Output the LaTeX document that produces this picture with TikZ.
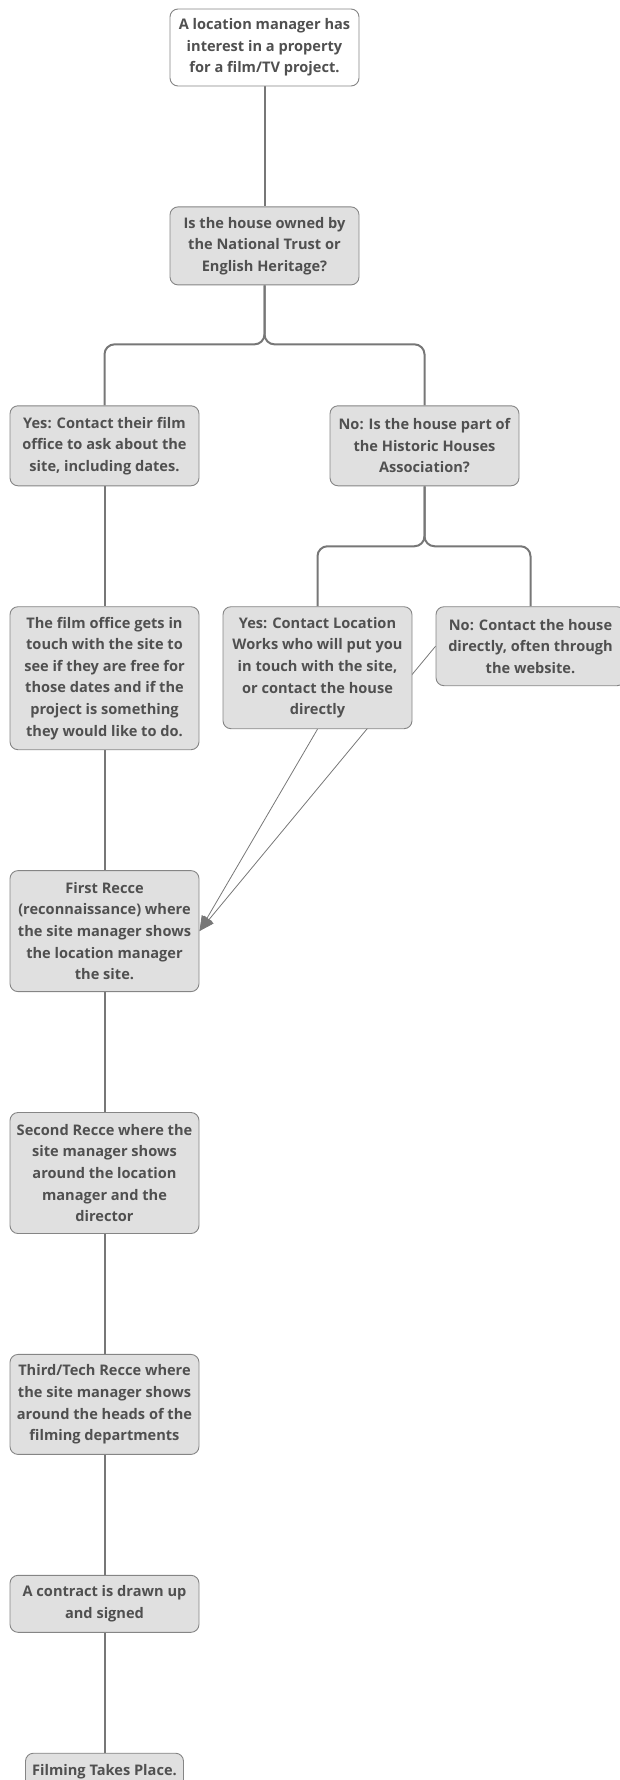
\documentclass[tikz,border=0pt]{standalone}
\usepackage{fontspec}
\setmainfont{Open Sans}
\usetikzlibrary{positioning,arrows.meta,backgrounds}

\definecolor{boxfill}{HTML}{E0E0E0}
\definecolor{boxline}{HTML}{858585}
\definecolor{boxtext}{HTML}{505050}
\definecolor{treeline}{HTML}{777777}

\tikzset{
  stepbox/.style={draw=boxline, fill=boxfill, line width=0.9pt, rounded corners=8pt,
    text=boxtext, align=center, minimum width=189pt, inner sep=0pt,
    font=\bfseries\fontsize{14.6}{21.6}\selectfont},
  startbox/.style={stepbox, fill=white},
  tree/.style={draw=treeline, line width=2pt, rounded corners=10pt},
  link/.style={draw=treeline, line width=0.8pt, -{Triangle[length=15pt,width=12pt]}},
  node distance=120pt
}

\begin{document}
\begin{tikzpicture}
  \useasboundingbox (0,0) rectangle (619pt,-1780pt);

  \node[startbox, minimum height=77pt] (start) at (264.5pt,-47.5pt)
    {A location manager has\\interest in a property\\for a film/TV project.};
  \node[stepbox, minimum height=78pt, below=of start] (trust)
    {Is the house owned by\\the National Trust or\\English Heritage?};

  \node[stepbox, minimum height=80pt, below=of trust, xshift=-160pt] (trustyes)
    {Yes: Contact their film\\office to ask about the\\site, including dates.};
  \node[stepbox, minimum height=80pt, below=of trust, xshift=160pt] (trustno)
    {No: Is the house part of\\the Historic Houses\\Association?};

  \node[stepbox, minimum height=143pt, below=of trustyes] (office)
    {The film office gets in\\touch with the site to\\see if they are free for\\those dates and if the\\project is something\\they would like to do.};
  \node[stepbox, minimum height=122pt, below=of trustno, xshift=-107pt] (hhayes)
    {Yes: Contact Location\\Works who will put you\\in touch with the site,\\or contact the house\\directly};
  \node[stepbox, minimum height=79pt, below=of trustno, xshift=106pt] (hhano)
    {No: Contact the house\\directly, often through\\the website.};

  \node[stepbox, minimum height=121pt, below=of office] (recce1)
    {First Recce\\(reconnaissance) where\\the site manager shows\\the location manager\\the site.};
  \node[stepbox, minimum height=121pt, below=of recce1] (recce2)
    {Second Recce where the\\site manager shows\\around the location\\manager and the\\director};
  \node[stepbox, minimum height=100pt, below=of recce2] (recce3)
    {Third/Tech Recce where\\the site manager shows\\around the heads of the\\filming departments};
  \node[stepbox, minimum height=57pt, below=of recce3] (contract)
    {A contract is drawn up\\and signed};
  \node[stepbox, minimum height=36pt, minimum width=158pt, below=of contract] (filming)
    {Filming Takes Place.};

  \begin{scope}[on background layer]
    % tree
    \draw[tree] (start) -- (trust);
    \draw[tree] (trust.south) -- ++(0,-59pt) -| (trustyes.north);
    \draw[tree] (trust.south) -- ++(0,-59pt) -| (trustno.north);
    \draw[tree] (trustyes) -- (office);
    \draw[tree] (trustno.south) -- ++(0,-60pt) -| (hhayes.north);
    \draw[tree] (trustno.south) -- ++(0,-60pt) -| (hhano.north);
    \draw[tree] (office) -- (recce1);
    \draw[tree] (recce1) -- (recce2);
    \draw[tree] (recce2) -- (recce3);
    \draw[tree] (recce3) -- (contract);
    \draw[tree] (contract) -- (filming);
    % links into the first recce
    \draw[link] (hhano.west) -- (recce1.east);
    \draw[link] (hhayes.south) -- (recce1.east);
  \end{scope}
\end{tikzpicture}
\end{document}
